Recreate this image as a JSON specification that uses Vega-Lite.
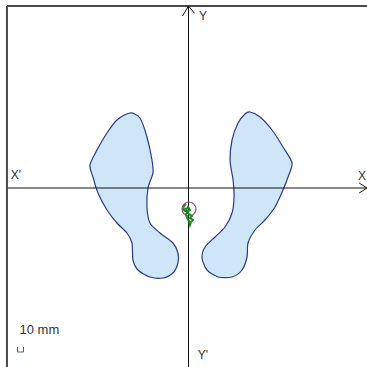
{
  "$schema": "https://vega.github.io/schema/vega-lite/v6.json",
  "width": 367,
  "height": 367,
  "autosize": {"type": "none"},
  "padding": 0,
  "background": "white",
  "config": {"view": {"stroke": null}},
  "datasets": {
    "feet": [
      {"foot": "L", "i": 0, "x": -87.8, "y": 112.5},
      {"foot": "L", "i": 1, "x": -72.8, "y": 105},
      {"foot": "L", "i": 2, "x": -62.3, "y": 76.5},
      {"foot": "L", "i": 3, "x": -54.8, "y": 42},
      {"foot": "L", "i": 4, "x": -53.3, "y": 22.5},
      {"foot": "L", "i": 5, "x": -60.8, "y": 0},
      {"foot": "L", "i": 6, "x": -62.3, "y": -28.5},
      {"foot": "L", "i": 7, "x": -57.8, "y": -52.5},
      {"foot": "L", "i": 8, "x": -42.8, "y": -67.5},
      {"foot": "L", "i": 9, "x": -23.3, "y": -82.5},
      {"foot": "L", "i": 10, "x": -15.8, "y": -97.5},
      {"foot": "L", "i": 11, "x": -15.8, "y": -112.5},
      {"foot": "L", "i": 12, "x": -23.3, "y": -127.5},
      {"foot": "L", "i": 13, "x": -38.3, "y": -135},
      {"foot": "L", "i": 14, "x": -57.8, "y": -133.5},
      {"foot": "L", "i": 15, "x": -75.8, "y": -123},
      {"foot": "L", "i": 16, "x": -83.3, "y": -108},
      {"foot": "L", "i": 17, "x": -84.8, "y": -82.5},
      {"foot": "L", "i": 18, "x": -92.3, "y": -67.5},
      {"foot": "L", "i": 19, "x": -107.3, "y": -52.5},
      {"foot": "L", "i": 20, "x": -122.3, "y": -33},
      {"foot": "L", "i": 21, "x": -135.8, "y": -7.5},
      {"foot": "L", "i": 22, "x": -143.3, "y": 16.5},
      {"foot": "L", "i": 23, "x": -147.8, "y": 34.5},
      {"foot": "L", "i": 24, "x": -137.3, "y": 57},
      {"foot": "L", "i": 25, "x": -122.3, "y": 82.5},
      {"foot": "L", "i": 26, "x": -107.3, "y": 102},
      {"foot": "R", "i": 0, "x": 92.3, "y": 114},
      {"foot": "R", "i": 1, "x": 107.3, "y": 106.5},
      {"foot": "R", "i": 2, "x": 125.3, "y": 87},
      {"foot": "R", "i": 3, "x": 141.8, "y": 61.5},
      {"foot": "R", "i": 4, "x": 155.3, "y": 37.5},
      {"foot": "R", "i": 5, "x": 149.3, "y": 16.5},
      {"foot": "R", "i": 6, "x": 141.8, "y": -3},
      {"foot": "R", "i": 7, "x": 129.8, "y": -28.5},
      {"foot": "R", "i": 8, "x": 114.8, "y": -48},
      {"foot": "R", "i": 9, "x": 99.8, "y": -63},
      {"foot": "R", "i": 10, "x": 89.3, "y": -82.5},
      {"foot": "R", "i": 11, "x": 87.8, "y": -103.5},
      {"foot": "R", "i": 12, "x": 80.3, "y": -123},
      {"foot": "R", "i": 13, "x": 65.3, "y": -133.5},
      {"foot": "R", "i": 14, "x": 44.3, "y": -133.5},
      {"foot": "R", "i": 15, "x": 27.8, "y": -123},
      {"foot": "R", "i": 16, "x": 20.3, "y": -105},
      {"foot": "R", "i": 17, "x": 24.8, "y": -88.5},
      {"foot": "R", "i": 18, "x": 39.8, "y": -73.5},
      {"foot": "R", "i": 19, "x": 54.8, "y": -58.5},
      {"foot": "R", "i": 20, "x": 65.3, "y": -37.5},
      {"foot": "R", "i": 21, "x": 68.3, "y": -13.5},
      {"foot": "R", "i": 22, "x": 66.8, "y": 12},
      {"foot": "R", "i": 23, "x": 62.3, "y": 42},
      {"foot": "R", "i": 24, "x": 65.3, "y": 72},
      {"foot": "R", "i": 25, "x": 74.3, "y": 97.5},
      {"foot": "R", "i": 26, "x": 84.8, "y": 111}
    ],
    "frame": [
      {"g": "top", "i": 0, "x": -272.3, "y": 273},
      {"g": "top", "i": 1, "x": 267.8, "y": 273},
      {"g": "left", "i": 0, "x": -272.3, "y": 273},
      {"g": "left", "i": 1, "x": -272.3, "y": -268.5}
    ],
    "axes": [
      {"g": "xaxis", "i": 0, "x": -270.8, "y": 0},
      {"g": "xaxis", "i": 1, "x": 267.8, "y": 0},
      {"g": "yaxis", "i": 0, "x": 0, "y": 273},
      {"g": "yaxis", "i": 1, "x": 0, "y": -268.5},
      {"g": "yarrow", "i": 0, "x": -9, "y": 258},
      {"g": "yarrow", "i": 1, "x": 0, "y": 273},
      {"g": "yarrow", "i": 2, "x": 9, "y": 262},
      {"g": "xarrow", "i": 0, "x": 256, "y": 7.5},
      {"g": "xarrow", "i": 1, "x": 267.8, "y": 0},
      {"g": "xarrow", "i": 2, "x": 256, "y": -7.5}
    ],
    "sway": [
      {"i": 0, "x": -3.75, "y": -24},
      {"i": 1, "x": -6.75, "y": -27},
      {"i": 2, "x": -8.25, "y": -31.5},
      {"i": 3, "x": -5.25, "y": -34.5},
      {"i": 4, "x": -0.75, "y": -28.5},
      {"i": 5, "x": 2.25, "y": -33},
      {"i": 6, "x": -2.25, "y": -36},
      {"i": 7, "x": 0.75, "y": -39},
      {"i": 8, "x": 5.25, "y": -42},
      {"i": 9, "x": 2.25, "y": -45},
      {"i": 10, "x": 6.75, "y": -48},
      {"i": 11, "x": 3.75, "y": -51},
      {"i": 12, "x": 2.25, "y": -55.5},
      {"i": 13, "x": 0.75, "y": -49.5},
      {"i": 14, "x": -2.25, "y": -45},
      {"i": 15, "x": -3.75, "y": -39},
      {"i": 16, "x": -0.75, "y": -36},
      {"i": 17, "x": -5.25, "y": -30}
    ],
    "center": [{"x": 0.75, "y": -31.5}],
    "scalebar": [
      {"i": 0, "x": -256.5, "y": -238.5},
      {"i": 1, "x": -256.5, "y": -246},
      {"i": 2, "x": -247.5, "y": -246},
      {"i": 3, "x": -247.5, "y": -238.5}
    ],
    "labels": [
      {"t": "Y", "x": 21.75, "y": 258},
      {"t": "X'", "x": -258.75, "y": 19.5},
      {"t": "X", "x": 260.25, "y": 18},
      {"t": "Y'", "x": 21.75, "y": -250.5}
    ],
    "scaletext": [{"t": "10 mm", "x": -253.5, "y": -213}]
  },
  "encoding": {
    "x": {"field": "x", "type": "quantitative", "scale": {"domain": [-282.75, 267.75], "nice": false, "zero": false}, "axis": null},
    "y": {"field": "y", "type": "quantitative", "scale": {"domain": [-268.5, 282], "nice": false, "zero": false}, "axis": null}
  },
  "layer": [
    {
      "data": {"name": "frame"},
      "mark": {"type": "line", "stroke": "#4a4a4a", "strokeWidth": 2},
      "encoding": {"detail": {"field": "g"}, "order": {"field": "i", "type": "quantitative"}}
    },
    {
      "data": {"name": "feet"},
      "mark": {"type": "line", "interpolate": "cardinal-closed", "tension": 0.2, "fill": "#cfe5f8", "stroke": "#2a3a86", "strokeWidth": 1.2},
      "encoding": {"detail": {"field": "foot"}, "order": {"field": "i", "type": "quantitative"}}
    },
    {
      "data": {"name": "axes"},
      "mark": {"type": "line", "stroke": "#111111", "strokeWidth": 1},
      "encoding": {"detail": {"field": "g"}, "order": {"field": "i", "type": "quantitative"}}
    },
    {
      "data": {"name": "center"},
      "mark": {"type": "point", "shape": "circle", "size": 196, "stroke": "#a0457e", "strokeWidth": 1.2, "filled": false, "opacity": 1}
    },
    {
      "data": {"name": "sway"},
      "mark": {"type": "line", "stroke": "#1e8a22", "strokeWidth": 2},
      "encoding": {"order": {"field": "i", "type": "quantitative"}}
    },
    {
      "data": {"name": "scalebar"},
      "mark": {"type": "line", "stroke": "#3f5cb0", "strokeWidth": 1},
      "encoding": {"order": {"field": "i", "type": "quantitative"}}
    },
    {
      "data": {"name": "labels"},
      "mark": {"type": "text", "font": "Liberation Sans", "fontSize": 12, "fill": "#333333", "align": "center", "baseline": "middle"},
      "encoding": {"text": {"field": "t"}}
    },
    {
      "data": {"name": "scaletext"},
      "mark": {"type": "text", "font": "Liberation Sans", "fontSize": 13, "fill": "#333333", "align": "left", "baseline": "middle"},
      "encoding": {"text": {"field": "t"}}
    }
  ]
}
